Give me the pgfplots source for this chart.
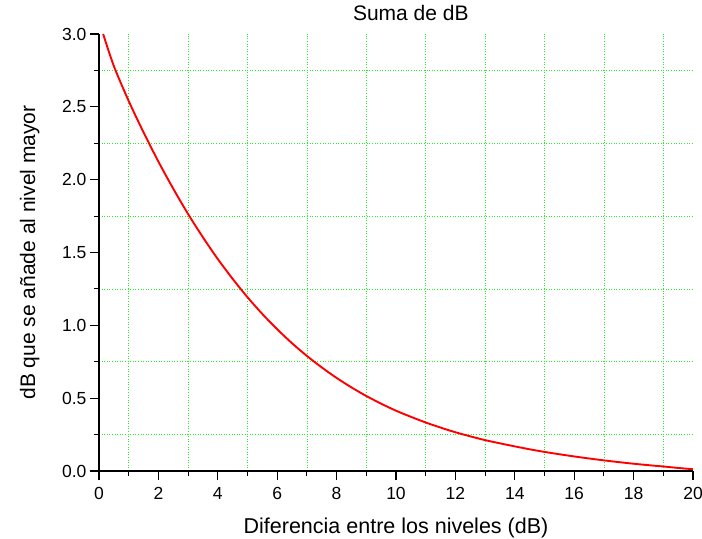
\documentclass[border=0pt]{standalone}
\usepackage{fontspec}
\setmainfont{Liberation Sans}
\usepackage{pgfplots}
\pgfplotsset{compat=1.18}
\definecolor{gridgreen}{RGB}{40,235,40}
\definecolor{curvered}{RGB}{255,0,0}
\begin{document}
\begin{tikzpicture}
\begin{axis}[
  at={(0,0)}, anchor=south west,
  scale only axis, width=594bp, height=437bp,
  xmin=0, xmax=20, ymin=0, ymax=3,
  axis lines=left,
  axis line style={-, line width=1.3bp, black},
  xtick={0,2,...,20},
  ytick={0,0.5,1.0,1.5,2.0,2.5,3.0},
  minor x tick num=1, minor y tick num=1,
  tick align=outside,
  major tick length=9bp, minor tick length=5bp,
  tick style={line width=1.1bp, black},
  grid=minor,
  minor grid style={gridgreen, line width=0.7bp, dash pattern=on 1bp off 1.6bp},
  yticklabel style={/pgf/number format/.cd, fixed, fixed zerofill, precision=1},
  xticklabel style={yshift=-4bp},
  /pgf/number format/assume math mode=true,
  ticklabel style={font=\fontsize{17.5bp}{19bp}\selectfont},
  title={Suma de dB},
  title style={at={(axis description cs:0.525,1.0183)}, anchor=base, font=\fontsize{21bp}{23bp}\selectfont},
  xlabel={Diferencia entre los niveles (dB)},
  xlabel style={at={(axis description cs:0.5,-0.1419)}, anchor=base, font=\fontsize{21.5bp}{23bp}\selectfont},
  ylabel={dB que se añade al nivel mayor},
  ylabel style={at={(axis description cs:-0.1077,0.5)}, anchor=base, font=\fontsize{21bp}{23bp}\selectfont},
  clip=true,
]
\addplot[curvered, line width=1.9bp, smooth, tension=0.5] coordinates {
(0.14,3.00) (0.5,2.78) (1,2.54) (1.5,2.325) (2,2.124) (2.5,1.938) (3,1.764) (3.5,1.604) (4,1.455)
(4.5,1.319) (5,1.193) (5.5,1.078) (6,0.973) (6.5,0.877) (7,0.790) (7.5,0.711) (8,0.639)
(8.5,0.574) (9,0.515) (9.5,0.462) (10,0.414) (10.5,0.372) (11,0.333) (11.5,0.298) (12,0.266) (12.5,0.238) (13,0.212) (13.5,0.190) (14,0.169)
(14.5,0.149) (15,0.131) (15.5,0.115) (16,0.100) (16.5,0.086) (17,0.073) (17.5,0.061) (18,0.050) (18.5,0.040) (19,0.031) (19.5,0.021) (20,0.012)
};
\end{axis}
\pgfresetboundingbox
\path (-99bp,-68bp) rectangle (603bp,471bp);
\end{tikzpicture}
\end{document}
